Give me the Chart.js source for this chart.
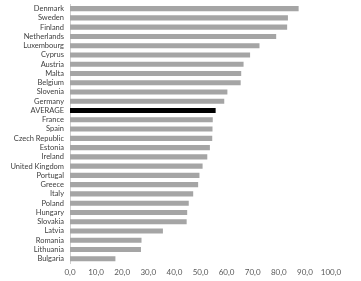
<!DOCTYPE html>
<html>
<head>
<meta charset="utf-8">
<script src="https://cdn.jsdelivr.net/npm/chart.js@4/dist/chart.umd.min.js"></script>
<style>
  html, body { margin: 0; padding: 0; background: #fff; }
  #wrap { width: 361px; height: 281px; position: relative; }
</style>
</head>
<body>
<div id="wrap"><canvas id="bar-chart"></canvas></div>
<script>
// countries, top to bottom
const countries = ['Denmark', 'Sweden', 'Finland', 'Netherlands', 'Luxembourg', 'Cyprus', 'Austria', 'Malta',
  'Belgium', 'Slovenia', 'Germany', 'AVERAGE', 'France', 'Spain', 'Czech Republic', 'Estonia', 'Ireland',
  'United Kingdom', 'Portugal', 'Greece', 'Italy', 'Poland', 'Hungary', 'Slovakia', 'Latvia', 'Romania',
  'Lithuania', 'Bulgaria'];
const values = [87.6, 83.5, 83.2, 79.0, 72.6, 69.0, 66.5, 65.6, 65.4, 60.3, 59.1, 55.8, 54.7, 54.6, 54.5,
  53.6, 52.6, 50.8, 49.6, 49.1, 47.2, 45.5, 44.9, 44.7, 35.6, 27.4, 27.2, 17.4];
const xTicks = [0, 10, 20, 30, 40, 50, 60, 70, 80, 90, 100];

const barColors = countries.map(c => c === 'AVERAGE' ? '#000000' : '#a5a5a5');

const ctx = document.getElementById('bar-chart').getContext('2d');
new Chart(ctx, {
  type: 'bar',
  data: {
    labels: countries,
    datasets: [{
      data: values,
      backgroundColor: barColors,
      barPercentage: 0.55,
      categoryPercentage: 1.0
    }]
  },
  options: {
    indexAxis: 'y',
    responsive: true,
    maintainAspectRatio: false,
    animation: false,
    layout: { padding: { top: 4, right: 30, bottom: 0, left: 0 } },
    plugins: { legend: { display: false }, tooltip: { enabled: false } },
    scales: {
      x: {
        min: 0,
        max: 100,
        afterBuildTicks: axis => { axis.ticks = xTicks.map(v => ({ value: v })); },
        grid: { display: false, drawTicks: false },
        border: { display: false },
        ticks: {
          padding: 4,
          color: '#595959',
          font: { family: 'Lato', size: 8 },
          maxRotation: 0,
          callback: v => v.toFixed(1).replace('.', ',')
        }
      },
      y: {
        afterFit: axis => {
          axis.width = 70;
          axis.paddingTop = 0;
          axis.paddingBottom = 0;
        },
        grid: { display: false, drawTicks: false },
        border: { display: true, color: '#d0d0d0', width: 1 },
        ticks: {
          padding: 6,
          autoSkip: false,
          color: '#404040',
          font: { family: 'Lato', size: 7.5 }
        }
      }
    }
  }
});
</script>
</body>
</html>
